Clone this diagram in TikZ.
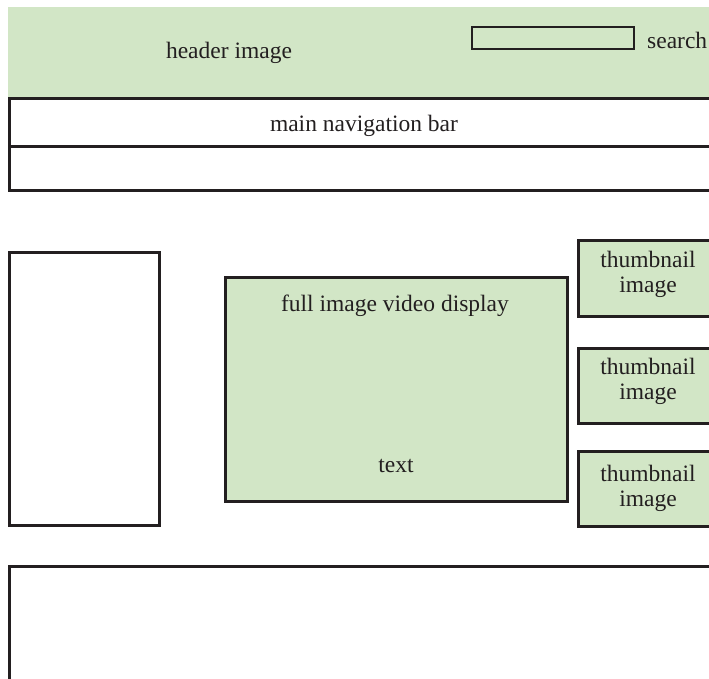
\documentclass[tikz,border=0pt]{standalone}
\usepackage{fontspec}
\setmainfont{Liberation Serif}
\definecolor{panelgreen}{RGB}{210,230,198}
\definecolor{inkline}{RGB}{35,31,32}
\tikzset{
  frame/.style={draw=inkline, line width=2.6pt, inner sep=0pt},
  greenframe/.style={frame, fill=panelgreen},
  label/.style={font=\fontsize{23.5}{25}\selectfont, text=inkline, inner sep=0pt, align=center},
}
\begin{document}
\begin{tikzpicture}[x=1pt, y=-1pt]
  \clip (0,0) rectangle (709,679);
  \fill[white] (0,0) rectangle (709,679);

  % header band with search field
  \node[fill=panelgreen, inner sep=0pt, minimum width=720pt, minimum height=90pt, anchor=north west] (header) at (8,7) {};
  \node[label] (headertext) at (229,53) {header image};
  \node[greenframe, minimum width=162pt, minimum height=22pt] (searchbox) at (553,38) {};
  \node[label, anchor=west] (searchtext) at (647,40) {search};

  % navigation rows
  \node[frame, fill=white, minimum width=720pt, minimum height=48pt, anchor=north west] (nav) at (8,97) {};
  \node[label] (navtext) at (364,126) {main navigation bar};
  \node[frame, fill=white, minimum width=720pt, minimum height=44pt, anchor=north west] (subnav) at (8,145) {};

  % left column
  \node[frame, fill=white, minimum width=150pt, minimum height=273pt, anchor=north west] (sidebar) at (8,251) {};

  % main display
  \node[greenframe, minimum width=342pt, minimum height=224pt, anchor=north west] (display) at (224,276) {};
  \node[label] (displaytitle) at (395,306) {full image video display};
  \node[label] (displaytext) at (396,466) {text};

  % thumbnails
  \node[greenframe, minimum width=150pt, minimum height=76pt, anchor=north west] (thumbA) at (577,239) {};
  \node[label] (thumbAtext) at (648,274) {thumbnail\\image};
  \node[greenframe, minimum width=150pt, minimum height=75pt, anchor=north west] (thumbB) at (577,347) {};
  \node[label] (thumbBtext) at (648,381) {thumbnail\\image};
  \node[greenframe, minimum width=150pt, minimum height=75pt, anchor=north west] (thumbC) at (577,450) {};
  \node[label] (thumbCtext) at (648,488) {thumbnail\\image};

  % footer
  \node[frame, fill=white, minimum width=720pt, minimum height=140pt, anchor=north west] (footer) at (8,565) {};
\end{tikzpicture}
\end{document}
